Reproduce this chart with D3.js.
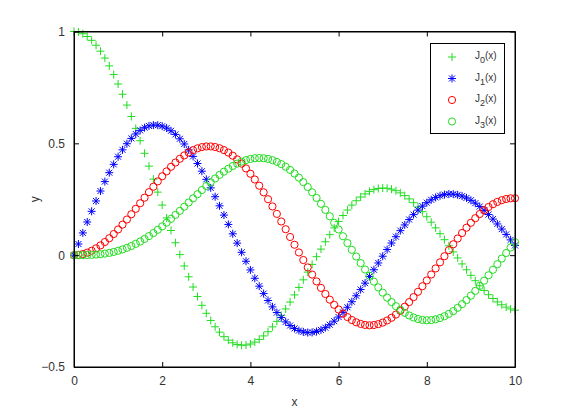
<!DOCTYPE html>
<html><head><meta charset="utf-8">
<script src="https://cdn.jsdelivr.net/npm/d3@7"></script>
<style>body{margin:0;background:#fff}svg{display:block}text{font-family:"Liberation Sans",Arial,sans-serif}</style>
</head><body><svg id="c" width="570" height="413"></svg>
<script>
const xs = d3.range(0, 101).map(i => i / 10);
const j0 = [1.0000,0.9975,0.9900,0.9776,0.9604,0.9385,0.9120,0.8812,0.8463,0.8075,0.7652,0.7196,0.6711,0.6201,0.5669,0.5118,0.4554,0.3980,0.3400,0.2818,0.2239,0.1666,0.1104,0.0555,0.0025,-0.0484,-0.0968,-0.1424,-0.1850,-0.2243,-0.2601,-0.2921,-0.3202,-0.3443,-0.3643,-0.3801,-0.3918,-0.3992,-0.4026,-0.4018,-0.3971,-0.3887,-0.3766,-0.3610,-0.3423,-0.3205,-0.2961,-0.2693,-0.2404,-0.2097,-0.1776,-0.1443,-0.1103,-0.0758,-0.0412,-0.0068,0.0270,0.0599,0.0917,0.1220,0.1506,0.1773,0.2017,0.2238,0.2433,0.2601,0.2740,0.2851,0.2931,0.2981,0.3001,0.2991,0.2951,0.2882,0.2786,0.2663,0.2516,0.2346,0.2154,0.1944,0.1717,0.1475,0.1222,0.0960,0.0692,0.0419,0.0146,-0.0125,-0.0392,-0.0653,-0.0903,-0.1142,-0.1367,-0.1577,-0.1768,-0.1939,-0.2090,-0.2218,-0.2323,-0.2403,-0.2459];
const j1 = [0.0000,0.0499,0.0995,0.1483,0.1960,0.2423,0.2867,0.3290,0.3688,0.4059,0.4401,0.4709,0.4983,0.5220,0.5419,0.5579,0.5699,0.5778,0.5815,0.5812,0.5767,0.5683,0.5560,0.5399,0.5202,0.4971,0.4708,0.4416,0.4097,0.3754,0.3391,0.3009,0.2613,0.2207,0.1792,0.1374,0.0955,0.0538,0.0128,-0.0272,-0.0660,-0.1033,-0.1386,-0.1719,-0.2028,-0.2311,-0.2566,-0.2791,-0.2985,-0.3147,-0.3276,-0.3371,-0.3432,-0.3460,-0.3453,-0.3414,-0.3343,-0.3241,-0.3110,-0.2951,-0.2767,-0.2559,-0.2329,-0.2081,-0.1816,-0.1538,-0.1250,-0.0953,-0.0652,-0.0349,-0.0047,0.0252,0.0543,0.0826,0.1096,0.1352,0.1592,0.1813,0.2014,0.2192,0.2346,0.2476,0.2580,0.2657,0.2708,0.2731,0.2728,0.2697,0.2641,0.2559,0.2453,0.2324,0.2174,0.2004,0.1816,0.1613,0.1395,0.1166,0.0928,0.0684,0.0435];
const j2 = [0.0000,0.0012,0.0050,0.0112,0.0197,0.0306,0.0437,0.0588,0.0758,0.0946,0.1149,0.1366,0.1594,0.1830,0.2072,0.2321,0.2570,0.2818,0.3061,0.3300,0.3528,0.3746,0.3951,0.4140,0.4310,0.4461,0.4590,0.4695,0.4776,0.4832,0.4861,0.4862,0.4835,0.4781,0.4697,0.4586,0.4448,0.4283,0.4093,0.3879,0.3641,0.3383,0.3106,0.2811,0.2501,0.2178,0.1845,0.1505,0.1160,0.0813,0.0466,0.0121,-0.0217,-0.0548,-0.0867,-0.1173,-0.1464,-0.1736,-0.1989,-0.2220,-0.2429,-0.2612,-0.2768,-0.2899,-0.3001,-0.3074,-0.3119,-0.3136,-0.3123,-0.3082,-0.3014,-0.2920,-0.2800,-0.2656,-0.2490,-0.2303,-0.2097,-0.1875,-0.1638,-0.1389,-0.1130,-0.0864,-0.0593,-0.0320,-0.0047,0.0224,0.0488,0.0745,0.0992,0.1228,0.1448,0.1653,0.1840,0.2008,0.2154,0.2279,0.2381,0.2458,0.2512,0.2541,0.2546];
const j3 = [0.0000,0.0000,0.0002,0.0006,0.0013,0.0026,0.0044,0.0069,0.0103,0.0144,0.0196,0.0257,0.0329,0.0411,0.0505,0.0610,0.0725,0.0852,0.0988,0.1134,0.1289,0.1452,0.1624,0.1801,0.1981,0.2167,0.2354,0.2540,0.2726,0.2911,0.3091,0.3265,0.3431,0.3588,0.3734,0.3867,0.3987,0.4092,0.4180,0.4250,0.4301,0.4334,0.4344,0.4334,0.4302,0.4247,0.4170,0.4072,0.3952,0.3811,0.3649,0.3466,0.3265,0.3046,0.2811,0.2561,0.2297,0.2023,0.1738,0.1446,0.1148,0.0846,0.0543,0.0240,-0.0060,-0.0354,-0.0640,-0.0919,-0.1185,-0.1438,-0.1675,-0.1897,-0.2099,-0.2281,-0.2442,-0.2580,-0.2696,-0.2787,-0.2854,-0.2895,-0.2911,-0.2903,-0.2869,-0.2811,-0.2730,-0.2626,-0.2501,-0.2355,-0.2190,-0.2007,-0.1809,-0.1597,-0.1374,-0.1140,-0.0899,-0.0653,-0.0403,-0.0152,0.0097,0.0343,0.0583];
const seriesNames = ["0", "1", "2", "3"];
const seriesMarkers = ["plus", "star", "circle", "circle"];
const seriesColors = ["#22dd22", "#0000ff", "#ff0000", "#22dd22"];
const xTicks = [0, 2, 4, 6, 8, 10];
const yTicks = [-0.5, 0, 0.5, 1];
const xLabel = "x", yLabel = "y";

const series = [j0, j1, j2, j3].map((v, i) => ({name: seriesNames[i], marker: seriesMarkers[i], color: seriesColors[i], values: v}));

const svg = d3.select("#c");
const L = 74, R = 515, T = 31.5, B = 367;
const x = d3.scaleLinear().domain([0, 10]).range([L, R]);
const y = d3.scaleLinear().domain([-0.5, 1]).range([B, T]);
const txtCol = "#333";

function drawMarker(g, type, color) {
  if (type === "plus") {
    g.append("path").attr("d", "M-4,0H4M0,-4V4").attr("stroke", color).attr("stroke-width", 1).attr("fill", "none");
  } else if (type === "star") {
    g.append("path").attr("d", "M-4,0H4M0,-4V4M-3,-3L3,3M-3,3L3,-3").attr("stroke", color).attr("stroke-width", 1).attr("fill", "none");
  } else {
    g.append("circle").attr("r", 3.6).attr("stroke", color).attr("stroke-width", 1).attr("fill", "none");
  }
}

const clip = svg.append("g");
series.forEach(s => {
  const g = clip.append("g");
  s.values.forEach((v, i) => {
    const m = g.append("g").attr("transform", `translate(${x(xs[i])},${y(v)})`);
    drawMarker(m, s.marker, s.color);
  });
});

// axes box
const ax = svg.append("g");
ax.append("g").attr("transform", `translate(0,${B})`).call(d3.axisBottom(x).tickValues(xTicks).tickSizeInner(-5).tickSizeOuter(0).tickPadding(9).tickFormat(d3.format("d")));
ax.append("g").attr("transform", `translate(0,${T})`).call(d3.axisTop(x).tickValues(xTicks).tickSizeInner(-5).tickSizeOuter(0).tickFormat(""));
ax.append("g").attr("transform", `translate(${L},0)`).call(d3.axisLeft(y).tickValues(yTicks).tickSizeInner(-5).tickSizeOuter(0).tickPadding(9).tickFormat(d => d3.format("")(d)));
ax.append("g").attr("transform", `translate(${R},0)`).call(d3.axisRight(y).tickValues(yTicks).tickSizeInner(-5).tickSizeOuter(0).tickFormat(""));
ax.selectAll("path.domain").attr("stroke", "#000").attr("stroke-width", 1);
ax.selectAll(".tick line").attr("stroke", "#000");
ax.selectAll(".tick text").attr("fill", txtCol).attr("font-size", 12).attr("font-family", "Liberation Sans, Arial, sans-serif");
ax.append("rect").attr("x", L).attr("y", T).attr("width", R - L).attr("height", B - T).attr("fill", "none").attr("stroke", "#000").attr("stroke-width", 1);

svg.append("text").attr("x", (L + R) / 2).attr("y", 406).attr("text-anchor", "middle").attr("font-size", 12).attr("fill", txtCol).text(xLabel);
svg.append("text").attr("transform", `translate(39,${(T + B) / 2}) rotate(-90)`).attr("text-anchor", "middle").attr("font-size", 12).attr("fill", txtCol).text(yLabel);

// legend
const lg = svg.append("g");
lg.append("rect").attr("x", 430.5).attr("y", 43.5).attr("width", 74).attr("height", 90).attr("fill", "#fff").attr("stroke", "#000").attr("stroke-width", 1);
series.forEach((s, i) => {
  const cy = 57 + i * 21.5;
  const m = lg.append("g").attr("transform", `translate(452,${cy})`);
  drawMarker(m, s.marker, s.color);
  const t = lg.append("text").attr("x", 475).attr("y", cy + 2).attr("font-size", 10).attr("fill", txtCol);
  t.append("tspan").text("J");
  t.append("tspan").attr("dy", 4).attr("font-size", 9).text(s.name);
  t.append("tspan").attr("dy", -4).attr("font-size", 10).text("(x)");
});
</script></body></html>
